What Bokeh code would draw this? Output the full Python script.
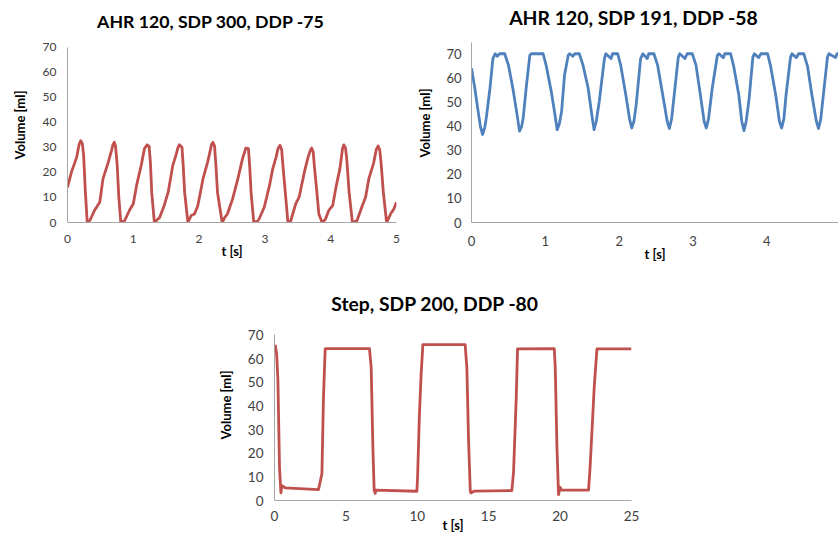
from bokeh.plotting import figure
from bokeh.layouts import column, row, Spacer
from bokeh.models import Range1d, FixedTicker, Title, Label
from bokeh.embed import file_html
from bokeh.resources import INLINE

# ---- data ----
title1 = "AHR 120, SDP 300, DDP -75"
t1 = [0.00, 0.06, 0.14, 0.175, 0.20, 0.225, 0.245, 0.27, 0.30, 0.34, 0.41, 0.49, 0.54, 0.62, 0.67, 0.69,
      0.71, 0.73, 0.755, 0.78, 0.81, 0.87, 0.94, 1.00, 1.05, 1.12, 1.17, 1.21, 1.24, 1.26, 1.28, 1.32,
      1.40, 1.47, 1.53, 1.60, 1.65, 1.68, 1.70, 1.74, 1.76, 1.78, 1.83, 1.88, 1.93, 1.98, 2.06, 2.13,
      2.17, 2.19, 2.21, 2.235, 2.255, 2.28, 2.35, 2.39, 2.43, 2.51, 2.59, 2.66, 2.71, 2.75, 2.77, 2.79,
      2.83, 2.88, 2.91, 2.99, 3.07, 3.12, 3.17, 3.20, 3.23, 3.255, 3.27, 3.31, 3.35, 3.39, 3.47, 3.52,
      3.60, 3.65, 3.69, 3.71, 3.735, 3.75, 3.79, 3.82, 3.87, 3.92, 3.97, 4.03, 4.08, 4.14, 4.18, 4.20,
      4.225, 4.245, 4.28, 4.33, 4.40, 4.48, 4.53, 4.58, 4.65, 4.695, 4.72, 4.745, 4.765, 4.80, 4.85,
      4.91, 4.96, 5.00]
v1 = [14.0, 20.1, 26.1, 31.0, 32.6, 31.5, 27.0, 13.0, 0.0, 0.8, 4.8, 8.1, 17.5, 24.1, 28.8, 31.0,
      32.0, 30.5, 23.0, 10.0, 0.0, 0.8, 4.8, 7.5, 14.8, 22.8, 29.5, 31.0, 30.5, 24.0, 12.0, 0.0,
      2.0, 6.8, 12.1, 22.8, 27.0, 30.0, 31.0, 30.0, 22.0, 12.0, 0.0, 2.8, 3.4, 6.7, 17.5, 24.1,
      28.8, 31.2, 32.0, 30.5, 23.0, 12.0, 0.0, 2.0, 3.4, 9.5, 17.5, 25.5, 29.7, 29.5, 22.0, 12.0,
      0.3, 0.3, 1.3, 6.1, 14.8, 21.5, 26.1, 29.5, 30.8, 29.0, 24.0, 12.0, 0.0, 0.5, 7.5, 10.1,
      20.1, 25.5, 28.8, 29.7, 28.0, 23.0, 12.0, 3.4, 0.0, 1.3, 4.8, 6.7, 14.1, 21.5, 29.5, 31.0,
      29.8, 25.0, 12.0, 0.0, 0.8, 6.7, 10.1, 17.5, 23.5, 29.3, 30.5, 29.0, 24.0, 12.0, 0.0,
      3.4, 5.4, 8.1]

title2 = "AHR 120, SDP 191, DDP -58"
t2 = [0.00, 0.045, 0.09, 0.12, 0.15, 0.18, 0.20, 0.25, 0.29, 0.32, 0.35, 0.38, 0.45, 0.50, 0.56, 0.61,
      0.65, 0.68, 0.70, 0.74, 0.79, 0.81, 0.97, 1.01, 1.08, 1.13, 1.16, 1.19, 1.22, 1.26, 1.31, 1.33,
      1.37, 1.40, 1.46, 1.51, 1.58, 1.63, 1.66, 1.69, 1.73, 1.80, 1.82, 1.89, 1.91, 1.98, 2.02, 2.09,
      2.14, 2.17, 2.20, 2.23, 2.29, 2.32, 2.38, 2.40, 2.47, 2.52, 2.59, 2.65, 2.68, 2.71, 2.74, 2.80,
      2.82, 2.89, 2.92, 2.99, 3.04, 3.10, 3.15, 3.18, 3.21, 3.26, 3.33, 3.35, 3.41, 3.43, 3.51, 3.55,
      3.62, 3.66, 3.69, 3.72, 3.76, 3.81, 3.83, 3.89, 3.92, 4.01, 4.05, 4.12, 4.17, 4.20, 4.23, 4.26,
      4.32, 4.34, 4.40, 4.43, 4.50, 4.55, 4.61, 4.67, 4.70, 4.73, 4.76, 4.82, 4.84, 4.93, 4.95, 4.97]
v2 = [64.0, 55.7, 46.1, 40.0, 36.5, 39.5, 43.3, 55.7, 68.0, 70.0, 69.0, 70.0, 70.0, 65.3, 55.7, 46.1,
      37.9, 40.0, 43.3, 55.7, 69.4, 70.0, 70.0, 65.3, 54.4, 44.8, 38.5, 41.0, 46.1, 61.2, 69.4, 70.0,
      69.0, 70.0, 70.0, 65.3, 55.7, 44.5, 38.5, 42.0, 50.2, 68.0, 70.0, 68.0, 70.0, 70.0, 65.3, 52.9,
      43.0, 39.2, 42.0, 48.8, 68.0, 70.0, 68.0, 70.0, 70.0, 65.3, 52.9, 42.0, 39.0, 43.0, 51.5, 68.5,
      70.0, 68.0, 70.0, 70.0, 65.3, 52.9, 42.0, 39.2, 43.0, 55.7, 69.4, 70.0, 68.4, 70.0, 70.0, 64.9,
      52.9, 42.0, 38.1, 42.0, 51.5, 68.5, 70.0, 68.4, 70.0, 70.0, 64.9, 52.9, 42.0, 39.2, 43.0, 53.0,
      68.5, 70.0, 68.4, 70.0, 70.0, 64.9, 52.9, 42.0, 39.0, 43.0, 51.5, 68.5, 70.0, 68.4, 70.0, 70.0]

title3 = "Step, SDP 200, DDP -80"
t3 = [0.05, 0.15, 0.24, 0.35, 0.45, 0.52, 0.75, 3.08, 3.32, 3.43, 3.55, 3.60, 6.65, 6.77, 6.89, 6.98,
      7.05, 7.10, 9.97, 10.02, 10.15, 10.27, 10.39, 13.35, 13.47, 13.59, 13.71, 13.75, 14.00, 16.62,
      16.74, 16.93, 17.02, 19.59, 19.66, 19.78, 19.89, 20.00, 20.10, 21.99, 22.10, 22.39, 22.58, 25.00]
v3 = [65.8, 62.0, 50.7, 14.0, 3.2, 6.3, 5.3, 4.6, 11.3, 43.6, 64.1, 64.2, 64.2, 56.3, 22.5, 4.2,
      3.0, 4.4, 3.9, 9.9, 36.6, 53.5, 65.9, 65.9, 56.3, 25.3, 4.2, 3.2, 4.0, 4.2,
      12.0, 43.6, 64.1, 64.2, 56.3, 22.5, 2.5, 5.6, 4.4, 4.4, 14.0, 47.9, 64.1, 64.1]

x_ticks_1 = [0, 1, 2, 3, 4, 5]
x_ticks_2 = [0, 1, 2, 3, 4]
x_ticks_3 = [0, 5, 10, 15, 20, 25]
y_ticks = [0, 10, 20, 30, 40, 50, 60, 70]
x_label = "t [s]"
y_label = "Volume [ml]"

RED = "#C0504D"
BLUE = "#4F81BD"
AXIS_GREY = "#A6A6A6"
TICK_COL = "#404040"
FONT = "Lato"


def make_fig(cfg):
    p = figure(width=cfg["w"], height=cfg["h"], x_range=Range1d(*cfg["xr"]), y_range=Range1d(*cfg["yr"]),
               output_backend="svg", toolbar_location=None,
               min_border_left=cfg["b"][0], min_border_right=cfg["b"][1],
               min_border_top=cfg["b"][2], min_border_bottom=cfg["b"][3])
    p.outline_line_color = None
    p.grid.grid_line_color = None
    p.background_fill_color = "white"
    p.border_fill_color = "white"
    p.line(cfg["t"], cfg["v"], line_color=cfg["color"], line_width=2.8, line_join="round")
    p.xaxis.ticker = FixedTicker(ticks=cfg["xt"])
    p.yaxis.ticker = FixedTicker(ticks=y_ticks)
    p.yaxis.bounds = cfg["ybounds"]
    for ax in (p.xaxis[0], p.yaxis[0]):
        ax.axis_line_color = AXIS_GREY
        ax.axis_line_width = 1
        ax.major_tick_line_color = None
        ax.minor_tick_line_color = None
        ax.major_tick_out = 0
        ax.major_tick_in = 0
        ax.major_label_text_font = FONT
        ax.major_label_text_font_size = cfg["tick_size"]
        ax.major_label_text_color = TICK_COL
        ax.axis_label_text_font = FONT
        ax.axis_label_text_font_size = "13px"
        ax.axis_label_text_font_style = "bold"
        ax.axis_label_text_color = "black"
    p.xaxis.axis_label = x_label
    p.xaxis.major_label_standoff = cfg["xstand"][0]
    p.xaxis.axis_label_standoff = cfg["xstand"][1]
    p.yaxis.major_label_standoff = cfg["ystand"]
    # chart title, placed in the empty band above the data like the reference
    p.add_layout(Label(x=cfg["title_xy"][0], y=cfg["title_xy"][1], text=cfg["title"], text_font=FONT,
                       text_font_size=cfg["title_size"], text_font_style="bold", text_color="black",
                       text_align="center", text_baseline="middle"))
    # vertical axis title, shifted upward like the reference
    p.add_layout(Title(text=y_label, text_font=FONT, text_font_size="13px", text_font_style="bold",
                       text_color="black", align="left", offset=cfg["ylab_offset"],
                       vertical_align="middle", standoff=cfg["ylab_standoff"]), "left")
    return p


p1 = make_fig(dict(title=title1, t=t1, v=v1, color=RED, xr=(0, 5), yr=(0, 88.6), ybounds=(0, 70),
                   xt=x_ticks_1, w=406, h=270, b=(66, 10, 0, 48), tick_size="12px",
                   xstand=(12, -3), ystand=11, title_xy=(2.18, 80.4), title_size="17.7px",
                   ylab_offset=63, ylab_standoff=21))
p2 = make_fig(dict(title=title2, t=t2, v=v2, color=BLUE, xr=(0, 4.97), yr=(0, 92.1), ybounds=(0, 74.8),
                   xt=x_ticks_2, w=432, h=270, b=(64, 0, 0, 48), tick_size="13px",
                   xstand=(13, -3), ystand=10, title_xy=(2.2, 85.1), title_size="19.4px",
                   ylab_offset=65, ylab_standoff=19))
p3 = make_fig(dict(title=title3, t=t3, v=v3, color=RED, xr=(0, 25), yr=(0, 97.2), ybounds=(0, 70),
                   xt=x_ticks_3, w=445, h=266, b=(69, 19, 0, 36), tick_size="13.5px",
                   xstand=(10, -7), ystand=11, title_xy=(11.25, 83.4), title_size="19.3px",
                   ylab_offset=61, ylab_standoff=20))

layout = column(row(p1, p2), row(Spacer(width=205, height=266), p3))
open("out.html", "w").write(file_html(layout, INLINE))
